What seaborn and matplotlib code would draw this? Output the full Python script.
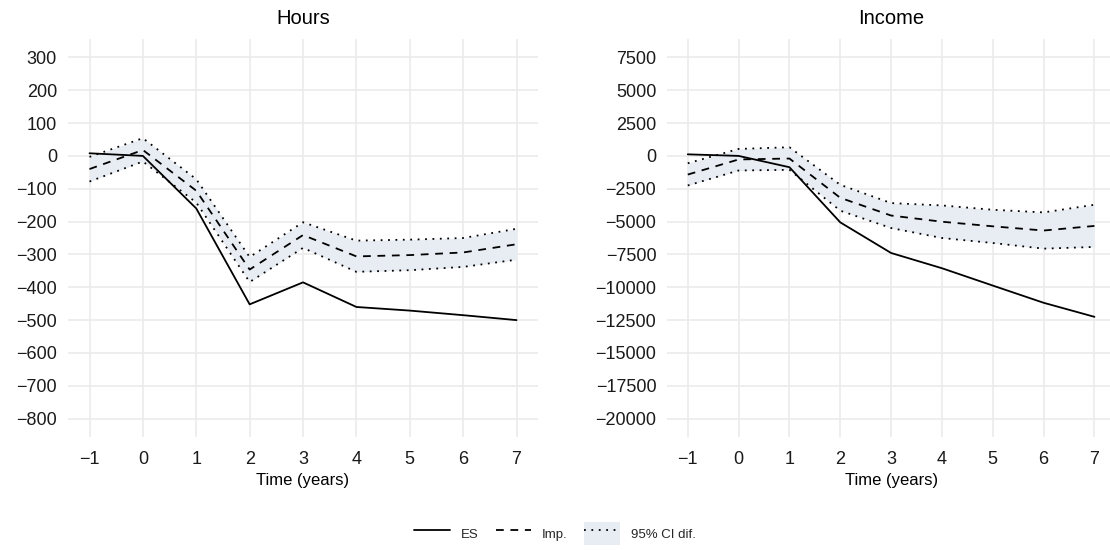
import numpy as np
import pandas as pd
import matplotlib
matplotlib.use("Agg")
import matplotlib.pyplot as plt
from matplotlib.lines import Line2D
from matplotlib.patches import Patch
import seaborn as sns

# ---- data ----
time = [-1, 0, 1, 2, 3, 4, 5, 6, 7]

hours_es = [8, 0, -160, -452, -385, -460, -471, -485, -500]
hours_imp = [-40, 18, -106, -346, -241, -306, -302, -294, -269]
hours_lo = [-78, -17, -142, -384, -280, -353, -348, -338, -316]
hours_hi = [-3, 54, -71, -308, -202, -258, -255, -250, -222]

income_es = [120, 0, -860, -5060, -7390, -8550, -9870, -11180, -12250]
income_imp = [-1420, -270, -200, -3190, -4540, -5010, -5360, -5680, -5330]
income_lo = [-2250, -1110, -1060, -4170, -5490, -6250, -6630, -7060, -6930]
income_hi = [-560, 530, 660, -2200, -3590, -3770, -4100, -4300, -3720]

hours_ticks = [-800, -700, -600, -500, -400, -300, -200, -100, 0, 100, 200, 300]
income_ticks = [-20000, -17500, -15000, -12500, -10000, -7500, -5000, -2500, 0, 2500, 5000, 7500]

panels = [
    ("Hours", hours_es, hours_imp, hours_lo, hours_hi, hours_ticks),
    ("Income", income_es, income_imp, income_lo, income_hi, income_ticks),
]

sns.set_theme(style="white")
plt.rcParams["font.family"] = ["Liberation Sans", "DejaVu Sans"]
plt.rcParams["axes.unicode_minus"] = True

fig = plt.figure(figsize=(11.1, 5.5), dpi=100)
fig.patch.set_facecolor("white")
axes_pos = [
    [0.0614, 0.2060, 0.4232, 0.7225],
    [0.6013, 0.2060, 0.4030, 0.7225],
]

FILL = "#E8EDF3"
GRID = "#EBEBEB"
LW = 1.3
dash_style = (0, (4.3, 3.7))
dot_style = (0, (1, 3.1))

for pos, (title, es, imp, lo, hi, yt) in zip(axes_pos, panels):
    ax = fig.add_axes(pos)
    df = pd.DataFrame({"t": time, "es": es, "imp": imp, "lo": lo, "hi": hi})
    ax.fill_between(df["t"], df["lo"], df["hi"], color=FILL, lw=0, zorder=1)
    sns.lineplot(data=df, x="t", y="lo", ax=ax, color="black", lw=LW,
                 linestyle=dot_style, legend=False, zorder=2)
    sns.lineplot(data=df, x="t", y="hi", ax=ax, color="black", lw=LW,
                 linestyle=dot_style, legend=False, zorder=2)
    sns.lineplot(data=df, x="t", y="imp", ax=ax, color="black", lw=LW,
                 linestyle=dash_style, legend=False, zorder=3)
    sns.lineplot(data=df, x="t", y="es", ax=ax, color="black", lw=LW,
                 linestyle="-", legend=False, zorder=4)

    rng = yt[-1] - yt[0]
    ax.set_ylim(yt[0] - 0.05 * rng, yt[-1] + 0.05 * rng)
    ax.set_xlim(-1.4, 7.4)
    ax.set_xticks(time)
    ax.set_xticklabels([str(t).replace("-", "\u2212") for t in time])
    ax.set_yticks(yt)
    ax.set_yticklabels([str(v).replace("-", "\u2212") for v in yt])
    ax.grid(True, color=GRID, lw=1.2, zorder=0)
    ax.set_axisbelow(True)
    for s in ax.spines.values():
        s.set_visible(False)
    ax.tick_params(axis="both", length=0, labelsize=13, colors="#1a1a1a")
    ax.tick_params(axis="x", pad=10)
    ax.tick_params(axis="y", pad=8)
    ax.set_ylabel("")
    ax.set_xlabel("Time (years)", fontsize=12, labelpad=4, color="black")
    ax.set_title(title, fontsize=14.5, pad=11, color="black")

handles = [
    Line2D([], [], color="black", lw=LW, linestyle="-"),
    Line2D([], [], color="black", lw=LW, linestyle=dash_style),
    (Patch(facecolor=FILL, edgecolor="none"),
     Line2D([], [], color="black", lw=LW, linestyle=dot_style)),
]
labels = ["ES", "Imp.", "95% CI dif."]
fig.legend(handles, labels, loc="center", bbox_to_anchor=(0.5, 0.03),
           ncol=3, frameon=False, fontsize=9.5, handlelength=2.7,
           handleheight=2.4, handletextpad=0.8, columnspacing=1.3)

fig.savefig("out.png", dpi=100, facecolor="white")
